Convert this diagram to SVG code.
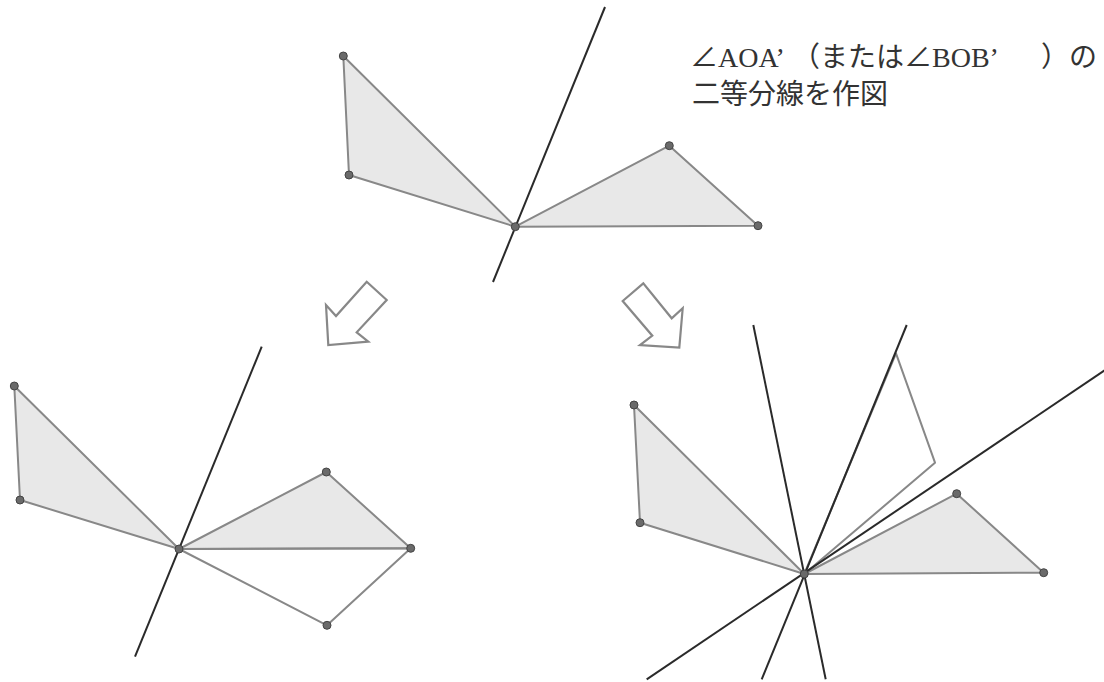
<svg xmlns="http://www.w3.org/2000/svg" width="1104" height="682" viewBox="0 0 1104 682">
<style>
.tri{fill:#e8e8e8;stroke:#888;stroke-width:2;stroke-linejoin:round}
.open{fill:none;stroke:#888;stroke-width:2;stroke-linejoin:round}
.ln{stroke:#2a2a2a;stroke-width:2;fill:none}
.dot{fill:#6a6a6a;stroke:#444;stroke-width:1}
.arr{fill:#fff;stroke:#888;stroke-width:2.2;stroke-linejoin:miter}
.t{font-size:28px;fill:#333}
.s{font-family:"Liberation Serif",serif}
.j{font-family:"Noto Sans CJK JP",sans-serif}
</style>
<rect width="1104" height="682" fill="#fff"/>
<g id="top">
<polygon class="tri" points="343.3,56 349,175 515.3,226.7"/>
<polygon class="tri" points="515.3,226.7 669.3,145.7 758,225.7"/>
<line class="ln" x1="605" y1="7" x2="493" y2="282"/>
<circle class="dot" cx="343.3" cy="56" r="4"/>
<circle class="dot" cx="349" cy="175" r="4"/>
<circle class="dot" cx="515.3" cy="226.7" r="4"/>
<circle class="dot" cx="669.3" cy="145.7" r="4"/>
<circle class="dot" cx="758" cy="225.7" r="4"/>
</g>
<g id="caption" class="t">
<text x="690" y="67" class="j">∠</text>
<text x="718" y="67" class="s">AOA’</text>
<text x="792" y="67" class="j">（または∠</text>
<text x="932" y="67" class="s">BOB’</text>
<text x="1041" y="67" class="j">）の</text>
<text x="692" y="104" class="j">二等分線を作図</text>
</g>
<g id="arrows">
<polygon class="arr" points="366.7,281.7 386.7,300 356.7,332.3 368.3,341.7 328.3,345 326,305 336,316"/>
<polygon class="arr" points="643.3,283.3 622.7,301 652.3,335.7 640,345 679.3,347.7 682.7,308.3 671.7,318.3"/>
</g>
<g id="left">
<polygon class="tri" points="14.3,386 20,500 179,549"/>
<polygon class="tri" points="179,549 326.3,472 410.7,548.3"/>
<polygon class="open" points="179,549 410.7,548.3 327,625.3"/>
<line class="ln" x1="261.7" y1="346.7" x2="135" y2="656.7"/>
<circle class="dot" cx="14.3" cy="386" r="4"/>
<circle class="dot" cx="20" cy="500" r="4"/>
<circle class="dot" cx="179" cy="549" r="4"/>
<circle class="dot" cx="326.3" cy="472" r="4"/>
<circle class="dot" cx="410.7" cy="548.3" r="4"/>
<circle class="dot" cx="327" cy="625.3" r="4"/>
</g>
<g id="right">
<polygon class="tri" points="634,405 640,522.7 804.3,574"/>
<polygon class="tri" points="804.3,574 956.7,493.7 1043.7,572.7"/>
<polygon class="open" points="804.3,574 935,462.7 896,353.3"/>
<line class="ln" x1="753.3" y1="325" x2="825.7" y2="679.3"/>
<line class="ln" x1="906.7" y1="325" x2="761.7" y2="679.3"/>
<line class="ln" x1="1106" y1="369.4" x2="646.7" y2="679.3"/>
<circle class="dot" cx="634" cy="405" r="4"/>
<circle class="dot" cx="640" cy="522.7" r="4"/>
<circle class="dot" cx="804.3" cy="574" r="4"/>
<circle class="dot" cx="956.7" cy="493.7" r="4"/>
<circle class="dot" cx="1043.7" cy="572.7" r="4"/>
</g>
</svg>
